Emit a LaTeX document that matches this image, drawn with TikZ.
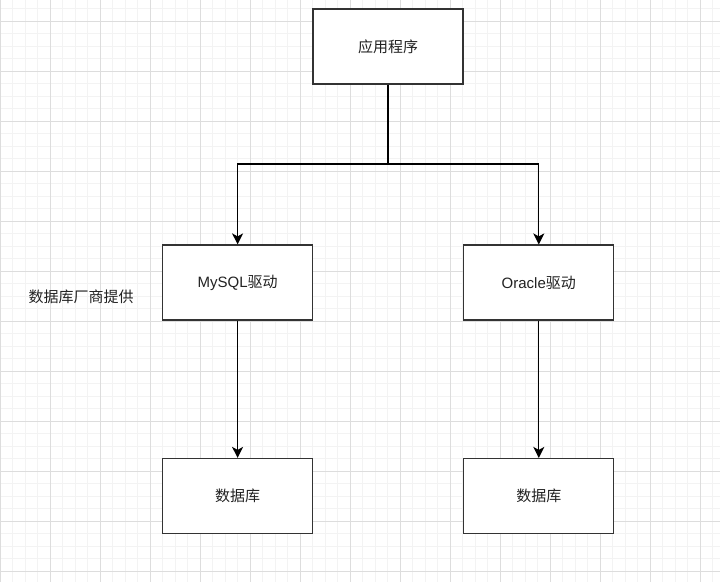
\documentclass[tikz,border=0pt]{standalone}
\usepackage{fontspec}
\setmainfont{Liberation Sans}
\newfontfamily\cjk{Noto Sans CJK SC}
\usetikzlibrary{arrows.meta}
\definecolor{minorgrid}{HTML}{F3F3F3}
\definecolor{majorgrid}{HTML}{DDDDDD}
\definecolor{boxline}{HTML}{333333}
\definecolor{txt}{HTML}{222222}
\tikzset{
  box/.style={draw=boxline, line width=1.2pt, fill=white, minimum width=150pt, minimum height=75pt, inner sep=0pt, text=txt, font=\fontsize{15}{17}\selectfont},
  conn/.style={draw=black, line width=1.3pt, -{Stealth[length=11pt,width=11pt,inset=3pt]}},
  lbl/.style={font=\fontsize{15}{17}\selectfont, text=txt, inner sep=0pt}
}
\begin{document}
\begin{tikzpicture}[x=1pt,y=-1pt]
\useasboundingbox (0,0) rectangle (720,582);
\fill[white] (0,0) rectangle (720,582);
% grid
\foreach \i in {0,...,58} {
  \draw[minorgrid, line width=0.8pt] ({12.5*\i},0) -- ({12.5*\i},582);
}
\foreach \j in {0,...,48} {
  \draw[minorgrid, line width=0.8pt] (0,{-3.7+12.5*\j}) -- (720,{-3.7+12.5*\j});
}
\foreach \i in {0,...,14} {
  \draw[majorgrid, line width=0.8pt] ({50*\i},0) -- ({50*\i},582);
}
\foreach \j in {0,...,12} {
  \draw[majorgrid, line width=0.8pt] (0,{21.3+50*\j}) -- (720,{21.3+50*\j});
}
% nodes
\node[box] (app) at (388,46.5) {\cjk 应用程序};
\node[box] (mysql) at (237.6,282.5) {MySQL\cjk 驱动};
\node[box] (oracle) at (538.8,282.5) {Oracle\cjk 驱动};
\node[box] (db1) at (237.6,496) {\cjk 数据库};
\node[box] (db2) at (538.8,496) {\cjk 数据库};
\node[lbl] (vendor) at (81,296.5) {\cjk 数据库厂商提供};
\coordinate (split) at (388,164);
% connectors
\draw[conn] (app.south) -- (split) -| (mysql.north);
\draw[conn] (split) -| (oracle.north);
\draw[conn] (mysql.south) -- (db1.north);
\draw[conn] (oracle.south) -- (db2.north);
\end{tikzpicture}
\end{document}
